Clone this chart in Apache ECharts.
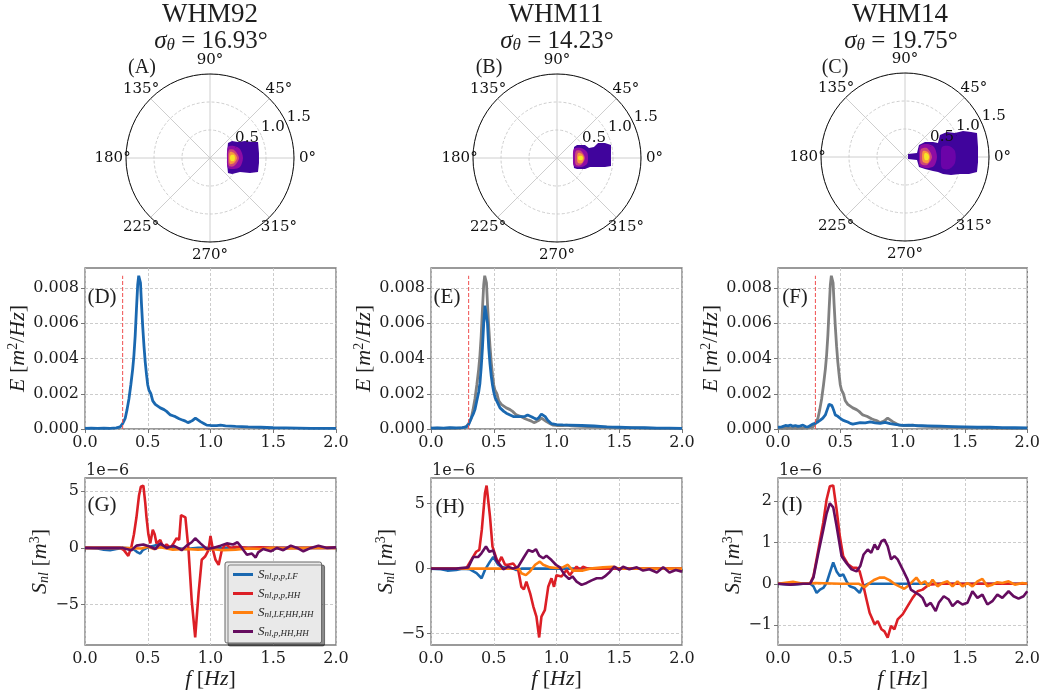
<!DOCTYPE html>
<html>
<head>
<meta charset="utf-8">
<script src="https://cdn.jsdelivr.net/npm/echarts@6/dist/echarts.min.js"></script>
<style>
  html, body { margin: 0; padding: 0; background: #fff; }
  #chart { width: 1043px; height: 697px; }
</style>
</head>
<body>
<div id="chart"></div>
<script>
// ---- data ----
const stations = ['WHM92', 'WHM11', 'WHM14']
const sigmaTheta = ['16.93', '14.23', '19.75']
const panelTop = ['(A)', '(B)', '(C)']
const panelMid = ['(D)', '(E)', '(F)']
const panelBot = ['(G)', '(H)', '(I)']

const radiusTicks = [0.5, 1.0, 1.5]
const radiusLabelAngle = 22.5
const angleTicks = [0, 45, 90, 135, 180, 225, 270, 315]
const angleLabelRadius = 1.74
const specTicks = [0, 0.002, 0.004, 0.006, 0.008]
const snlTicks = [[-5, 0, 5], [-5, 0, 5], [-1, 0, 1, 2]]
const snlRange = [[-8.57, 6.17], [-5.88, 6.98], [-1.48, 2.56]]

const cutoffFreq = 0.3
const cutoffTop = 0.0087

// directional spectrum contours, [level, [[f (Hz), direction (deg)], ...]]
const blobWHM92 = [
  [0, [[0.418, 39.8], [0.497, 37.7], [0.576, 29.7], [0.695, 25.9], [0.802, 20.9], [0.904, 18.4], [0.879, 5.8], [0.879, 354.2], [0.893, 343.7], [0.763, 339.4], [0.591, 335.0], [0.486, 324.0], [0.418, 320.2], [0.316, 343.6], [0.316, 16.4]]],
  [1, [[0.377, 31.4], [0.479, 26.6], [0.559, 16.7], [0.589, 0], [0.559, 343.3], [0.471, 335.4], [0.368, 330.9], [0.304, 0]]],
  [2, [[0.368, 22.8], [0.452, 18.4], [0.518, 0], [0.452, 341.6], [0.368, 337.2], [0.321, 0]]],
  [3, [[0.373, 16.7], [0.438, 11.8], [0.482, 0], [0.438, 348.2], [0.373, 343.3], [0.339, 0]]],
  [4, [[0.379, 8.1], [0.432, 7.1], [0.446, 0], [0.432, 352.9], [0.379, 351.9], [0.357, 0]]]
]
const blobWHM11 = [
  [0, [[0.362, 32.9], [0.426, 33.0], [0.551, 24.9], [0.599, 17.4], [0.689, 16.6], [0.780, 20.1], [0.898, 17.4], [0.992, 13.5], [0.964, 0], [0.975, 351.6], [0.872, 349.4], [0.732, 347.3], [0.611, 344.7], [0.537, 338.6], [0.408, 331.2], [0.352, 329.5], [0.286, 0]]],
  [1, [[0.343, 27.9], [0.464, 22.6], [0.546, 11.3], [0.554, 0], [0.546, 348.7], [0.458, 339.4], [0.335, 334.8], [0.286, 0]]],
  [2, [[0.362, 20.2], [0.446, 16.3], [0.5, 0], [0.446, 343.7], [0.362, 339.8], [0.321, 0]]],
  [3, [[0.386, 13.4], [0.452, 9.1], [0.482, 0], [0.455, 348.7], [0.386, 346.6], [0.357, 0]]],
  [4, [[0.394, 5.2], [0.448, 4.6], [0.464, 0], [0.448, 355.4], [0.394, 354.8], [0.375, 0]]]
]
const blobWHM14 = [
  [0, [[0.076, 45], [0.226, 18.4], [0.329, 40.6], [0.446, 36.9], [0.567, 28.2], [0.640, 23.0], [0.738, 32.2], [0.873, 30.8], [0.990, 25.6], [1.135, 24.1], [1.260, 20.7], [1.355, 18.4], [1.316, 7.8], [1.307, 356.1], [1.313, 348.2], [1.183, 345.1], [1.028, 342.8], [0.882, 338.6], [0.743, 335.9], [0.647, 335.6], [0.559, 333.4], [0.416, 329], [0.307, 324.5], [0.221, 346], [0.064, 326.3]]],
  [5, [[0.684, 15.1], [0.810, 14.0], [0.899, 6.8], [0.899, 353.2], [0.814, 344.7], [0.689, 343.4], [0.643, 0]]],
  [1, [[0.332, 36.3], [0.456, 30.6], [0.548, 19.0], [0.571, 0], [0.542, 342.8], [0.439, 333.4], [0.312, 329], [0.25, 0]]],
  [2, [[0.319, 26.6], [0.424, 22.2], [0.482, 0], [0.418, 340], [0.312, 336.4], [0.268, 0]]],
  [3, [[0.339, 18.4], [0.420, 12.3], [0.446, 0], [0.424, 345.4], [0.334, 344.5], [0.304, 0]]],
  [4, [[0.364, 11.3], [0.414, 7.4], [0.429, 0], [0.414, 352.6], [0.361, 351.5], [0.340, 3.0]]]
]

// energy spectra [f, E]
const specWHM92 = [[0, 0.00003], [0.05, 0.00005], [0.1, 0.00004], [0.15, 0.00005], [0.2, 0.00004], [0.25, 0.00006], [0.28, 0.00012], [0.30, 0.0003], [0.32, 0.0006], [0.335, 0.0011], [0.35, 0.0017], [0.365, 0.0025], [0.38, 0.0034], [0.39, 0.0042], [0.40, 0.0053], [0.41, 0.0068], [0.42, 0.0082], [0.428, 0.0087], [0.435, 0.0088], [0.442, 0.0083], [0.45, 0.0071], [0.46, 0.0058], [0.47, 0.0047], [0.48, 0.0038], [0.49, 0.0031], [0.50, 0.0025], [0.51, 0.0022], [0.525, 0.0020], [0.54, 0.0016], [0.56, 0.0014], [0.58, 0.0013], [0.60, 0.0012], [0.63, 0.0011], [0.65, 0.0010], [0.68, 0.0008], [0.70, 0.00075], [0.72, 0.0007], [0.75, 0.00058], [0.78, 0.0005], [0.80, 0.00045], [0.82, 0.00036], [0.84, 0.00042], [0.86, 0.0005], [0.88, 0.00062], [0.90, 0.00052], [0.92, 0.00042], [0.95, 0.0003], [0.97, 0.00022], [1.0, 0.0002], [1.05, 0.00019], [1.08, 0.00022], [1.12, 0.00018], [1.2, 0.00015], [1.3, 0.00012], [1.4, 0.0001], [1.5, 0.00007], [1.6, 0.00006], [1.7, 0.00005], [1.8, 0.00004], [1.9, 0.00004], [2.0, 0.00003]]
const specWHM11 = [[0, 0.00005], [0.05, 0.00006], [0.1, 0.00005], [0.15, 0.00007], [0.2, 0.00006], [0.25, 0.00008], [0.28, 0.00012], [0.30, 0.00025], [0.32, 0.0006], [0.34, 0.0009], [0.35, 0.0011], [0.365, 0.0016], [0.38, 0.0021], [0.39, 0.0026], [0.40, 0.0035], [0.41, 0.0046], [0.42, 0.0060], [0.43, 0.0070], [0.44, 0.0069], [0.45, 0.0060], [0.46, 0.0046], [0.47, 0.0037], [0.48, 0.0030], [0.49, 0.0025], [0.50, 0.0021], [0.51, 0.0018], [0.53, 0.0015], [0.55, 0.0012], [0.58, 0.0010], [0.60, 0.0009], [0.63, 0.0008], [0.66, 0.0007], [0.70, 0.0007], [0.73, 0.0007], [0.75, 0.00072], [0.77, 0.0008], [0.78, 0.0009], [0.80, 0.0007], [0.82, 0.00062], [0.84, 0.00055], [0.86, 0.00065], [0.88, 0.00085], [0.895, 0.00088], [0.91, 0.0007], [0.93, 0.0005], [0.96, 0.0003], [1.0, 0.00025], [1.05, 0.00023], [1.1, 0.00022], [1.2, 0.0002], [1.3, 0.00017], [1.4, 0.00012], [1.5, 0.0001], [1.6, 0.00008], [1.7, 0.00007], [1.8, 0.00005], [1.9, 0.00005], [2.0, 0.00004]]
const specWHM14 = [[0, 0.0001], [0.03, 0.00012], [0.06, 0.0002], [0.08, 0.00018], [0.1, 0.00022], [0.12, 0.00016], [0.14, 0.0002], [0.16, 0.00015], [0.18, 0.00018], [0.2, 0.00022], [0.22, 0.00014], [0.24, 0.00012], [0.26, 0.0002], [0.28, 0.00028], [0.30, 0.00033], [0.32, 0.0004], [0.34, 0.0005], [0.36, 0.00062], [0.38, 0.0008], [0.39, 0.001], [0.40, 0.0012], [0.41, 0.0014], [0.42, 0.0014], [0.43, 0.00135], [0.44, 0.0012], [0.45, 0.001], [0.46, 0.0008], [0.47, 0.0007], [0.48, 0.00072], [0.49, 0.00065], [0.50, 0.0006], [0.52, 0.0005], [0.54, 0.00045], [0.56, 0.0004], [0.58, 0.00032], [0.60, 0.00028], [0.63, 0.00032], [0.66, 0.00036], [0.70, 0.00035], [0.74, 0.0004], [0.78, 0.00035], [0.82, 0.00032], [0.86, 0.00038], [0.90, 0.0003], [0.95, 0.00025], [1.0, 0.0002], [1.05, 0.00022], [1.1, 0.0002], [1.2, 0.00018], [1.3, 0.00016], [1.4, 0.00014], [1.5, 0.00012], [1.6, 0.0001], [1.7, 0.0001], [1.8, 0.00008], [1.9, 0.00007], [2.0, 0.00006]]

// nonlinear transfer [f, Snl in 1e-6 m^3]
const snl92LF = [[0, 0], [0.1, -0.05], [0.15, -0.15], [0.2, -0.2], [0.25, -0.1], [0.3, 0], [0.38, -0.05], [0.42, -0.4], [0.44, -0.5], [0.46, -0.2], [0.5, 0.05], [0.55, 0.2], [0.6, 0.35], [0.63, 0.1], [0.7, 0], [0.8, -0.1], [0.9, 0], [1.0, 0], [1.5, 0], [2.0, 0]]
const snl92HH = [[0, 0], [0.1, 0], [0.2, 0], [0.28, 0], [0.31, -0.2], [0.345, -0.7], [0.37, 0.1], [0.39, 1.2], [0.41, 2.7], [0.43, 4.6], [0.445, 5.4], [0.465, 5.5], [0.48, 4.0], [0.49, 2.7], [0.505, 1.2], [0.52, 0.4], [0.54, 1.6], [0.555, 1.2], [0.57, 0.4], [0.585, 0.5], [0.6, 0.7], [0.625, 0], [0.65, 0.3], [0.68, 0], [0.705, 0.4], [0.73, 0.85], [0.75, 0.7], [0.765, 2.9], [0.775, 3.0], [0.8, 2.7], [0.825, -0.2], [0.85, -4.6], [0.878, -7.9], [0.905, -4.0], [0.93, -1.05], [0.957, -0.76], [0.984, -0.2], [1.0, 1.05], [1.02, -0.2], [1.04, -1.05], [1.065, -1.5], [1.09, -0.2], [1.12, 0.35], [1.16, 0], [1.2, 0.1], [1.3, 0], [1.4, 0.05], [1.5, 0], [1.6, 0], [1.8, 0], [2.0, 0]]
const snl92LFHH = [[0, 0], [0.3, 0], [0.45, -0.05], [0.5, 0.1], [0.55, -0.1], [0.6, 0.05], [0.7, -0.15], [0.8, -0.1], [0.9, -0.15], [1.0, -0.1], [1.1, -0.2], [1.2, -0.15], [1.3, -0.05], [1.4, -0.1], [1.5, 0], [1.6, -0.05], [1.8, 0], [2.0, 0]]
const snl92PHH = [[0, 0], [0.1, 0], [0.2, 0], [0.3, 0], [0.33, -0.1], [0.37, -0.2], [0.41, 0.2], [0.465, 0.3], [0.52, 0.1], [0.56, -0.1], [0.6, 0.4], [0.65, 0.0], [0.705, 0.2], [0.74, 0], [0.77, -0.2], [0.81, 0.2], [0.85, 0.5], [0.878, 0.85], [0.92, 0.4], [0.97, -0.1], [1.02, 0], [1.08, 0.2], [1.13, 0.4], [1.18, 0.3], [1.215, 0.5], [1.25, 0], [1.29, -0.6], [1.33, -0.5], [1.36, -0.85], [1.38, -0.4], [1.42, -0.1], [1.48, -0.3], [1.53, 0], [1.58, -0.2], [1.64, 0.2], [1.69, 0], [1.74, -0.3], [1.8, 0], [1.86, 0.2], [1.93, 0], [2.0, 0.05]]

const snl11LF = [[0, 0], [0.08, -0.05], [0.13, -0.15], [0.2, -0.1], [0.25, 0], [0.31, -0.05], [0.363, -0.35], [0.403, -0.74], [0.43, -0.1], [0.47, 0.54], [0.496, 0.9], [0.536, 0.3], [0.56, 0.15], [0.6, 0.05], [0.655, 0], [0.68, -0.1], [0.72, 0], [1.0, 0], [1.5, 0], [2.0, 0]]
const snl11HH = [[0, 0], [0.1, 0], [0.2, 0], [0.28, 0], [0.32, 0.66], [0.36, 1.3], [0.385, 1.45], [0.405, 3.0], [0.43, 5.8], [0.443, 6.4], [0.47, 4.0], [0.49, 1.7], [0.517, 0.9], [0.536, 0.4], [0.562, 0.9], [0.59, 0.3], [0.615, 0.3], [0.655, 0.4], [0.695, -0.1], [0.72, -1.4], [0.74, -1.6], [0.76, -1.0], [0.79, -1.9], [0.815, -2.9], [0.84, -3.7], [0.862, -5.3], [0.88, -3.7], [0.907, -3.2], [0.934, -1.4], [0.96, -0.74], [0.98, -1.4], [1.0, -0.5], [1.04, -0.6], [1.08, -0.1], [1.106, -0.5], [1.13, -0.2], [1.16, 0.15], [1.19, -0.1], [1.21, 0.15], [1.25, 0], [1.4, 0], [1.6, 0], [2.0, 0]]
const snl11LFHH = [[0, 0], [0.3, 0], [0.6, 0], [0.7, 0], [0.72, -0.35], [0.756, -0.5], [0.79, -0.2], [0.83, 0.3], [0.867, 0.54], [0.894, 0.3], [0.947, 0.1], [1.0, 0.05], [1.05, 0.1], [1.09, 0.3], [1.13, -0.15], [1.21, -0.15], [1.265, 0], [1.37, 0.1], [1.45, 0.15], [1.5, 0], [1.7, 0], [2.0, 0]]
const snl11PHH = [[0, 0], [0.1, 0], [0.2, 0], [0.297, 0.1], [0.337, 0.9], [0.377, 0.9], [0.403, 1.2], [0.438, 1.7], [0.464, 1.3], [0.496, 1.4], [0.52, 0.66], [0.55, 0.3], [0.576, -0.05], [0.615, 0.15], [0.655, 0], [0.695, 0.15], [0.735, 0.8], [0.775, 1.43], [0.81, 1.3], [0.836, 1.5], [0.862, 1.0], [0.894, 0.8], [0.92, 1.0], [0.96, 0.66], [0.995, 0.3], [1.027, 0.1], [1.066, -0.5], [1.1, -0.8], [1.127, -0.6], [1.16, -1.0], [1.2, -1.25], [1.24, -1.1], [1.28, -0.9], [1.32, -0.74], [1.36, -0.74], [1.385, -0.6], [1.42, -0.3], [1.46, 0.15], [1.5, -0.1], [1.53, 0.15], [1.58, -0.05], [1.64, 0.1], [1.69, -0.15], [1.74, -0.05], [1.8, -0.3], [1.85, 0.1], [1.9, -0.3], [1.95, -0.1], [2.0, -0.23]]

const snl14LF = [[0, 0], [0.1, -0.02], [0.2, 0], [0.26, 0], [0.284, -0.06], [0.31, -0.22], [0.337, -0.14], [0.363, -0.1], [0.39, 0.02], [0.416, 0.27], [0.443, 0.52], [0.47, 0.3], [0.496, 0.19], [0.523, 0.23], [0.55, 0.06], [0.576, -0.06], [0.615, -0.1], [0.655, -0.22], [0.68, -0.06], [0.72, 0], [1.0, 0], [1.5, 0], [2.0, 0]]
const snl14HH = [[0, 0], [0.1, 0], [0.2, 0], [0.257, 0], [0.284, 0.18], [0.324, 0.83], [0.363, 1.48], [0.39, 2.04], [0.416, 2.36], [0.443, 2.38], [0.47, 1.8], [0.496, 1.15], [0.523, 0.67], [0.562, 0.47], [0.6, 0.39], [0.63, 0.39], [0.655, 0.3], [0.68, 0.02], [0.71, -0.38], [0.735, -0.7], [0.775, -0.98], [0.8, -0.9], [0.83, -1.1], [0.854, -1.15], [0.88, -1.3], [0.907, -1.02], [0.934, -1.1], [0.96, -0.86], [1.0, -0.74], [1.04, -0.54], [1.08, -0.34], [1.12, -0.18], [1.16, -0.14], [1.21, -0.02], [1.3, 0], [1.5, 0], [2.0, 0]]
const snl14LFHH = [[0, 0], [0.12, 0.05], [0.2, 0], [0.3, 0.02], [0.5, 0], [0.65, 0], [0.695, -0.08], [0.735, 0.02], [0.775, 0.1], [0.814, 0.15], [0.854, 0.15], [0.894, 0.09], [0.934, 0], [0.973, -0.06], [1.013, -0.12], [1.04, -0.06], [1.08, 0.06], [1.11, 0.15], [1.146, 0], [1.18, 0.06], [1.207, -0.06], [1.24, 0.1], [1.28, -0.06], [1.32, 0.02], [1.36, 0.06], [1.4, -0.06], [1.44, 0.06], [1.48, -0.06], [1.52, 0.02], [1.56, -0.06], [1.6, 0.06], [1.64, 0.12], [1.68, -0.06], [1.72, -0.02], [1.76, 0.04], [1.8, 0.02], [1.85, 0.06], [1.9, -0.02], [1.96, 0.02], [2.0, 0]]
const snl14PHH = [[0, 0], [0.1, -0.02], [0.2, 0], [0.257, 0], [0.284, 0.15], [0.324, 0.75], [0.363, 1.3], [0.39, 1.7], [0.416, 1.95], [0.43, 1.97], [0.443, 1.85], [0.47, 1.4], [0.51, 0.67], [0.55, 0.5], [0.59, 0.35], [0.63, 0.3], [0.66, 0.43], [0.687, 0.71], [0.72, 0.83], [0.748, 0.75], [0.775, 0.95], [0.8, 0.83], [0.83, 1.03], [0.854, 1.07], [0.88, 0.91], [0.907, 0.59], [0.934, 0.67], [0.96, 0.59], [1.0, 0.35], [1.04, 0.1], [1.066, -0.14], [1.106, -0.22], [1.13, -0.26], [1.16, -0.34], [1.19, -0.54], [1.225, -0.46], [1.265, -0.66], [1.29, -0.46], [1.33, -0.3], [1.37, -0.38], [1.4, -0.54], [1.44, -0.42], [1.48, -0.5], [1.52, -0.46], [1.56, -0.18], [1.6, -0.34], [1.64, -0.26], [1.68, -0.5], [1.72, -0.42], [1.76, -0.26], [1.8, -0.34], [1.85, -0.18], [1.89, -0.3], [1.93, -0.36], [1.97, -0.3], [2.0, -0.18]]

const snlNames = ['nl,p,p,LF', 'nl,p,p,HH', 'nl,LF,HH,HH', 'nl,p,HH,HH']

// ---- layout / style ----
const cols = [
  { cx: 210, cy: 158, gridLeft: 85, titleX: 210 },
  { cx: 557, cy: 158, gridLeft: 431, titleX: 556 },
  { cx: 905, cy: 157, gridLeft: 778, titleX: 900 }
]
const panelLabelPos = [
  [[142, 68], [102, 297], [102, 505]],
  [[489, 68], [447, 297], [450, 507]],
  [[835, 68], [795, 297], [792, 505]]
]
const blobColors = ['#40049c', '#8e0ca4', '#cc4778', '#f89540', '#f6e527', '#6b03a8']
const snlColors = ['#1a68b0', '#dc1f26', '#ff7f0e', '#650c5f']
const specBlue = '#1a68b0'
const specGray = '#808080'
const txt = '#1e1e1e'
const tickFont = { fontFamily: 'DejaVu Serif', fontSize: 16, color: txt }
const mathRich = {
  it: { fontFamily: 'Liberation Serif', fontStyle: 'italic', fontWeight: 'normal', fontSize: 22, color: txt },
  rm: { fontFamily: 'Liberation Serif', fontWeight: 'normal', fontSize: 22, color: txt },
  sup: { fontFamily: 'Liberation Serif', fontWeight: 'normal', fontSize: 14, color: txt, padding: [0, 0, 9, 0] },
  sub: { fontFamily: 'Liberation Serif', fontStyle: 'italic', fontWeight: 'normal', fontSize: 14, color: txt, padding: [9, 0, 0, 0] }
}
const sigmaRich = {
  it: { fontFamily: 'Liberation Serif', fontStyle: 'italic', fontWeight: 'normal', fontSize: 25, color: txt },
  rm: { fontFamily: 'Liberation Serif', fontWeight: 'normal', fontSize: 25, color: txt },
  sub: { fontFamily: 'Liberation Serif', fontStyle: 'italic', fontWeight: 'normal', fontSize: 17, color: txt, padding: [9, 0, 0, 0] }
}
const polarLabel = { fontFamily: 'DejaVu Serif', fontSize: 15, color: '#111', textBorderWidth: 0, opacity: 1 }

const blobSets = [blobWHM92, blobWHM11, blobWHM14]
const specSets = [specWHM92, specWHM11, specWHM14]
const snlSets = [
  [snl92LF, snl92HH, snl92LFHH, snl92PHH],
  [snl11LF, snl11HH, snl11LFHH, snl11PHH],
  [snl14LF, snl14HH, snl14LFHH, snl14PHH]
]

const fmtMinus = v => (v < 0 ? '\u2212' + Math.abs(v) : String(v))

const chart = echarts.init(document.getElementById('chart'))

const titles = []
cols.forEach((c, i) => {
  titles.push({
    text: stations[i], left: c.titleX, top: 15, textAlign: 'center', textVerticalAlign: 'middle', padding: 0,
    textStyle: { fontFamily: 'Liberation Serif', fontSize: 27, fontWeight: 'normal', color: txt }
  })
  titles.push({
    text: '{it|σ}{sub|θ}{rm| = ' + sigmaTheta[i] + '°}', left: c.titleX + 1, top: 41, textAlign: 'center', textVerticalAlign: 'middle', padding: 0,
    textStyle: { fontWeight: 'normal', rich: sigmaRich }
  })
  const labels = [panelTop[i], panelMid[i], panelBot[i]]
  labels.forEach((t, r) => {
    titles.push({
      text: t, left: panelLabelPos[i][r][0], top: panelLabelPos[i][r][1], textAlign: 'center', textVerticalAlign: 'middle', padding: 0,
      textStyle: { fontFamily: 'Liberation Serif', fontSize: r === 0 ? 20 : 21, fontWeight: 'normal', color: txt }
    })
  })
  titles.push({
    text: '1e\u22126', left: c.gridLeft + 1, top: 471, textAlign: 'left', textVerticalAlign: 'middle', padding: 0,
    textStyle: { ...tickFont, fontWeight: 'normal' }
  })
})

const dashedGrid = { show: true, lineStyle: { color: '#c6c6c6', type: [3, 2], width: 0.9 } }
const tickStyle = { show: true, length: 4, lineStyle: { color: '#777', width: 1 } }

const grids = []
const xAxes = []
const yAxes = []
const series = []

cols.forEach(c => {
  grids.push({ left: c.gridLeft, top: 268, width: 251, height: 161, show: true, borderColor: '#7a7a7a', borderWidth: 1.3 })
})
cols.forEach(c => {
  grids.push({ left: c.gridLeft, top: 478, width: 251, height: 167, show: true, borderColor: '#7a7a7a', borderWidth: 1.3 })
})

for (let g = 0; g < 6; g++) {
  const bottomRow = g >= 3
  xAxes.push({
    gridIndex: g, type: 'value', min: 0, max: 2, interval: 0.5,
    axisLine: { show: false }, axisTick: tickStyle,
    axisLabel: { ...tickFont, margin: 6, formatter: v => v.toFixed(1) },
    splitLine: dashedGrid,
    name: bottomRow ? '{it|f}{rm| [}{it|Hz}{rm|]}' : '',
    nameLocation: 'middle', nameGap: 22,
    nameTextStyle: { rich: mathRich }
  })
  const col = g % 3
  if (!bottomRow) {
    yAxes.push({
      gridIndex: g, type: 'value', min: 0, max: 0.00914,
      axisLine: { show: false },
      axisTick: { ...tickStyle, customValues: specTicks },
      axisLabel: { ...tickFont, margin: 6, customValues: specTicks, formatter: v => v.toFixed(3) },
      splitLine: dashedGrid,
      name: '{it|E}{rm| [}{it|m}{sup|2}{rm|/}{it|Hz}{rm|]}',
      nameLocation: 'middle', nameRotate: 90, nameGap: 54,
      nameTextStyle: { rich: mathRich }
    })
  } else {
    yAxes.push({
      gridIndex: g, type: 'value', min: snlRange[col][0], max: snlRange[col][1],
      axisLine: { show: false },
      axisTick: { ...tickStyle, customValues: snlTicks[col] },
      axisLabel: { ...tickFont, margin: 6, customValues: snlTicks[col], formatter: fmtMinus },
      splitLine: dashedGrid,
      name: '{it|S}{sub|nl}{rm| [}{it|m}{sup|3}{rm|]}',
      nameLocation: 'middle', nameRotate: 90, nameGap: 33,
      nameTextStyle: { rich: mathRich }
    })
  }
}

const lineBase = { type: 'line', showSymbol: false, symbol: 'none', silent: true, animation: false }

cols.forEach((c, i) => {
  // directional spectrum contours
  const blobs = blobSets[i]
  series.push({
    type: 'custom', coordinateSystem: 'polar', polarIndex: i, silent: true, animation: false, z: 3,
    data: blobs.map(b => [b[1][0][0], b[1][0][1], b[0]]),
    renderItem: (params, api) => {
      const b = blobs[params.dataIndex]
      const pts = b[1].map(p => api.coord(p))
      return {
        type: 'polygon',
        shape: { points: pts, smooth: b[0] === 0 ? 0 : 0.3 },
        style: { fill: blobColors[b[0]] }
      }
    }
  })
  // radial tick labels
  series.push({
    type: 'scatter', coordinateSystem: 'polar', polarIndex: i, silent: true, animation: false, z: 5, clip: false,
    data: radiusTicks.map(r => [r, radiusLabelAngle]),
    symbol: 'circle', symbolSize: 0.5, itemStyle: { color: '#111', opacity: 1 },
    label: {
      show: true, position: 'right', distance: 0, offset: [-1, -9],
      formatter: p => p.value[0].toFixed(1), ...polarLabel
    }
  })
  // angular tick labels, centred just outside the rim
  series.push({
    type: 'scatter', coordinateSystem: 'polar', polarIndex: i, silent: true, animation: false, z: 5, clip: false,
    data: angleTicks.map(a => [angleLabelRadius, a]),
    symbol: 'circle', symbolSize: 0.5, itemStyle: { color: '#fff', opacity: 1 },
    label: {
      show: true, position: 'inside',
      formatter: p => p.value[1] + '°', ...polarLabel
    }
  })

  // energy spectra
  if (i > 0) {
    series.push({ ...lineBase, xAxisIndex: i, yAxisIndex: i, data: specWHM92, lineStyle: { color: specGray, width: 2.8 } })
  }
  series.push({ ...lineBase, xAxisIndex: i, yAxisIndex: i, data: specSets[i], lineStyle: { color: specBlue, width: 2.8 } })
  series.push({
    ...lineBase, xAxisIndex: i, yAxisIndex: i,
    data: [[cutoffFreq, 0], [cutoffFreq, cutoffTop]],
    lineStyle: { color: '#f05050', width: 1, type: [4, 2] }
  })

  // nonlinear transfer
  snlSets[i].forEach((d, k) => {
    series.push({
      ...lineBase, name: snlNames[k], xAxisIndex: i + 3, yAxisIndex: i + 3, data: d,
      itemStyle: { color: snlColors[k] }, lineStyle: { color: snlColors[k], width: 2.6 }
    })
  })
})

const option = {
  animation: false,
  backgroundColor: '#fff',
  title: titles,
  polar: cols.map(c => ({ center: [c.cx, c.cy], radius: 84 })),
  angleAxis: cols.map((c, i) => ({
    polarIndex: i, type: 'value', min: 0, max: 360, interval: 45, startAngle: 0, clockwise: false,
    axisLine: { show: true, lineStyle: { color: '#111', width: 1 } },
    axisTick: { show: false },
    axisLabel: { show: false },
    splitLine: { show: true, lineStyle: { color: '#c8c8c8', width: 0.9 } }
  })),
  radiusAxis: cols.map((c, i) => ({
    polarIndex: i, type: 'value', min: 0, max: 1.5, interval: 0.5,
    axisLine: { show: false }, axisTick: { show: false }, axisLabel: { show: false },
    splitLine: { show: true, lineStyle: { color: '#c8c8c8', width: 0.9, type: [3, 2] } }
  })),
  grid: grids,
  xAxis: xAxes,
  yAxis: yAxes,
  legend: {
    data: snlNames, left: 225, top: 562, orient: 'vertical',
    icon: 'rect', itemWidth: 20, itemHeight: 3, itemGap: 4,
    padding: [5, 8, 4, 8],
    backgroundColor: '#e9e9e9', borderColor: '#666', borderWidth: 1, borderRadius: 2,
    shadowColor: 'rgba(0,0,0,0.45)', shadowBlur: 0, shadowOffsetX: 3, shadowOffsetY: 3,
    selectedMode: false,
    formatter: n => '{s|S}{sub|' + n + '}',
    textStyle: {
      lineHeight: 15,
      rich: {
        s: { fontFamily: 'Liberation Serif', fontStyle: 'italic', fontSize: 13, color: txt },
        sub: { fontFamily: 'Liberation Serif', fontStyle: 'italic', fontSize: 9, color: txt, padding: [5, 0, 0, 0] }
      }
    }
  },
  series
}

chart.setOption(option)
window.addEventListener('resize', () => chart.resize())
</script>
</body>
</html>
